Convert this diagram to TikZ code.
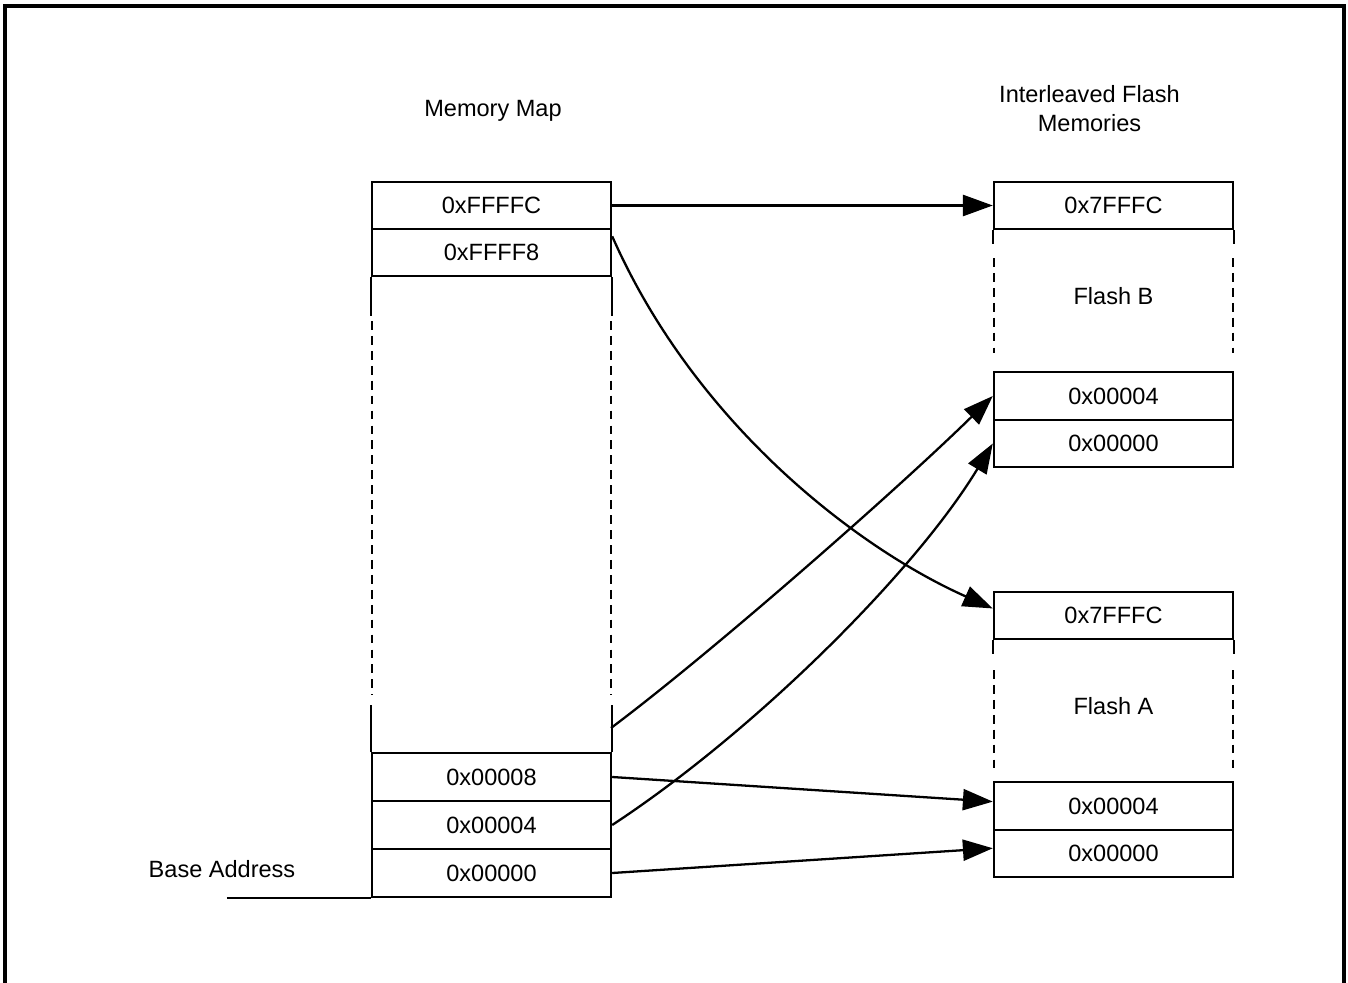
\documentclass[tikz,border=0pt]{standalone}
\usepackage{fontspec}
\setmainfont{Liberation Sans}
\usetikzlibrary{arrows.meta,positioning}
\tikzset{cell/.style={draw,line width=1.4pt,minimum width=4.78cm,minimum height=0.95cm,inner sep=0pt,text height=9.6pt,text depth=0pt},lbl/.style={inner sep=0pt,text height=9.6pt,text depth=0pt},side/.style={line width=1.4pt},dsh/.style={line width=0.8pt,dash pattern=on 5pt off 3.5pt},arr/.style={-{Triangle[length=17pt,width=12pt]},line width=1.3pt}}

\begin{document}
\begin{tikzpicture}[x=0.02cm,y=-0.02cm,font=\fontsize{13.4}{16.4}\selectfont]
\useasboundingbox (0,0) rectangle (1348,983);
\draw[line width=1.8pt](5,983)--(5,6)--(1344,6)--(1344,983);
% memory map
\node[lbl](mTitle)at(493,108.5){Memory Map};
\node[cell](mF)at(491.5,205.5){0xFFFFC};\node[cell](mE)at(491.5,252.5){0xFFFF8};
\node[cell](m8)at(491.5,777){0x00008};\node[cell](m4)at(491.5,825){0x00004};\node[cell](m0)at(491.5,873){0x00000};
\draw[side](mE.south west)--++(0,39);\draw[side](mE.south east)--++(0,39);
\draw[side](m8.north west)--++(0,-47);\draw[side](m8.north east)--++(0,-47);
\draw[dsh](372,321)--(372,695);\draw[dsh](611,321)--(611,695);
\path(m0.south west)++(-144,0)coordinate(base);\draw[side](base)--(m0.south west);
\node[lbl](baseLbl)at(222,869.5){Base Address};
% flash memories
\node[align=center,inner sep=0pt](fTitle)at(1089.5,108.5){Interleaved Flash\\Memories};
\node[cell](bF)at(1113.5,205.5){0x7FFFC};\node[cell](b4)at(1113.5,396){0x00004};\node[cell](b0)at(1113.5,443.5){0x00000};
\draw[side](bF.south west)--++(0,14);\draw[side](bF.south east)--++(0,14);
\draw[dsh](994,258)--(994,353);\draw[dsh](1233,258)--(1233,353);
\node[lbl](bLbl)at(1113.5,296.5){Flash B};
\node[cell](aF)at(1113.5,615.5){0x7FFFC};\node[cell](a4)at(1113.5,806){0x00004};\node[cell](a0)at(1113.5,853.5){0x00000};
\draw[side](aF.south west)--++(0,14);\draw[side](aF.south east)--++(0,14);
\draw[dsh](994,670)--(994,768);\draw[dsh](1233,670)--(1233,768);
\node[lbl](aLbl)at(1113.5,706.5){Flash A};
% connectors
\coordinate(mGap)at(611,728);
\draw[arr](mF.east)--(bF.west);
\draw[arr]([yshift=-5pt]mE.north east)..controls(695,424)and(857,548)..([yshift=4pt]aF.west);
\draw[arr](mGap)..controls(715,650)and(900,487)..(b4.west);
\draw[arr](m4.east)..controls(754,732)and(915,572)..(b0.west);
\draw[arr](m8.east)--([yshift=2.5pt]a4.west);
\draw[arr](m0.east)--([yshift=3pt]a0.west);
\end{tikzpicture}
\end{document}
